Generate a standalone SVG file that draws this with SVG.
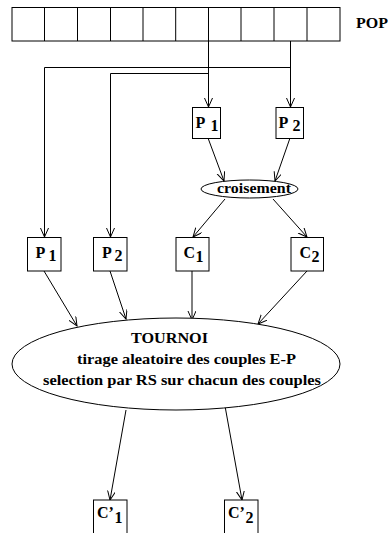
<svg xmlns="http://www.w3.org/2000/svg" width="388" height="533" viewBox="0 0 388 533">
<defs>
<marker id="arr" markerUnits="userSpaceOnUse" markerWidth="12" markerHeight="10" refX="9" refY="4" orient="auto">
<path d="M0,0 L9,4 L0,8" fill="none" stroke="#000" stroke-width="1"/>
</marker>
<style>
.b{fill:#fff;stroke:#000;stroke-width:1}
.t{font-family:"Liberation Serif","Times New Roman",serif;font-weight:bold;font-size:15px;fill:#000}
.l{font-size:16px}
.c{stroke:#000;stroke-width:1;fill:none}
.a{marker-end:url(#arr)}
</style>
</defs>
<rect width="388" height="533" fill="#fff"/>
<g id="pop">
<rect class="b" x="12" y="7.5" width="328" height="33.5"/>
<path class="c" d="M44.5,7.5V41 M77.5,7.5V41 M110.5,7.5V41 M143,7.5V41 M175.7,7.5V41 M208.5,7.5V41 M241,7.5V41 M274,7.5V41 M307,7.5V41"/>
<text class="t" x="356" y="28" textLength="32" lengthAdjust="spacingAndGlyphs">POP</text>
</g>
<g id="connectors">
<path class="c" d="M44.5,67.5H290.5 M110.5,73.5H208.5"/>
<path class="c a" d="M208.5,41V107"/>
<path class="c a" d="M290.5,41V107"/>
<path class="c a" d="M44.5,67.5V237"/>
<path class="c a" d="M110.5,73.5V237"/>
<path class="c a" d="M208,138L224,181"/>
<path class="c a" d="M290,138L275,181"/>
<path class="c a" d="M225,199L193,237"/>
<path class="c a" d="M273,199L307,237"/>
<path class="c a" d="M44,271L77,326"/>
<path class="c a" d="M110,271L126,319"/>
<path class="c a" d="M192,271V320"/>
<path class="c a" d="M307,271L258,324"/>
<path class="c a" d="M126,410L110,500"/>
<path class="c a" d="M225,406L242,500"/>
</g>
<g id="p1top">
<rect class="b" x="192.5" y="107.5" width="28" height="31"/>
<text class="t l" x="195.5" y="128">P<tspan x="210.5" y="131">1</tspan></text>
</g>
<g id="p2top">
<rect class="b" x="276" y="107.5" width="27.5" height="31"/>
<text class="t l" x="278.5" y="128">P<tspan x="292.5" y="131">2</tspan></text>
</g>
<g id="croisement">
<ellipse class="b" cx="249.5" cy="189" rx="48.5" ry="9"/>
<text class="t" x="217" y="192.5" textLength="74" lengthAdjust="spacingAndGlyphs">croisement</text>
</g>
<g id="p1">
<rect class="b" x="27.5" y="237.5" width="33.5" height="33.5"/>
<text class="t l" x="35.5" y="258">P<tspan x="48.5" y="261">1</tspan></text>
</g>
<g id="p2">
<rect class="b" x="93.5" y="237.5" width="33.5" height="33.5"/>
<text class="t l" x="102" y="258">P<tspan x="114.5" y="261">2</tspan></text>
</g>
<g id="c1">
<rect class="b" x="176" y="237.5" width="33" height="33.5"/>
<text class="t l" x="183.5" y="258">C<tspan x="195.5" y="262">1</tspan></text>
</g>
<g id="c2">
<rect class="b" x="291" y="237.5" width="32.5" height="33.5"/>
<text class="t l" x="299.5" y="258">C<tspan x="311.5" y="262">2</tspan></text>
</g>
<g id="tournoi">
<ellipse class="b" cx="176" cy="364" rx="164" ry="46"/>
<text class="t" x="131" y="343" textLength="77" lengthAdjust="spacingAndGlyphs">TOURNOI</text>
<text class="t" x="77" y="364" textLength="219" lengthAdjust="spacingAndGlyphs">tirage aleatoire des couples E-P</text>
<text class="t" x="43" y="385" textLength="278" lengthAdjust="spacingAndGlyphs">selection par RS sur chacun des couples</text>
</g>
<g id="cp1">
<rect class="b" x="93.5" y="500" width="33.5" height="40"/>
<text class="t l" x="97" y="518">C’<tspan x="114.5" y="523">1</tspan></text>
</g>
<g id="cp2">
<rect class="b" x="224.5" y="500" width="33.5" height="40"/>
<text class="t l" x="228" y="518">C’<tspan x="245.5" y="523">2</tspan></text>
</g>
</svg>
